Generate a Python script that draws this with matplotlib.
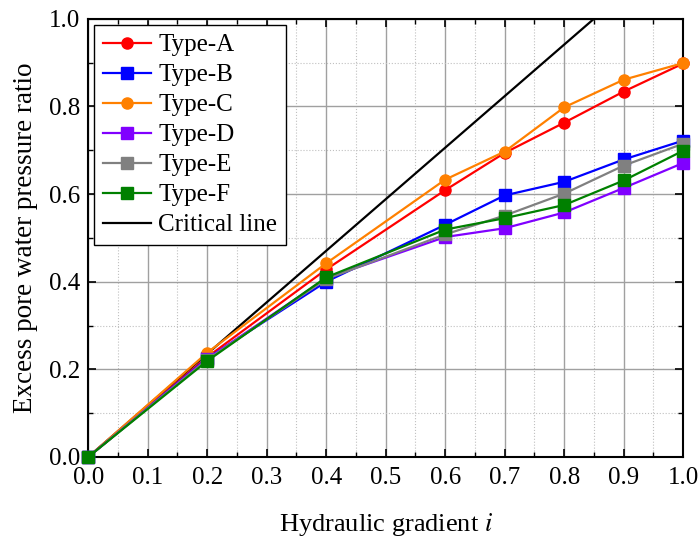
import matplotlib
matplotlib.use('Agg')
import matplotlib.pyplot as plt
from matplotlib.ticker import MultipleLocator, FormatStrFormatter

plt.rcParams['font.family'] = ['Liberation Serif', 'DejaVu Serif']
plt.rcParams['mathtext.fontset'] = 'stix'

# hydraulic gradient values
gradient = [0.0, 0.2, 0.4, 0.6, 0.7, 0.8, 0.9, 1.0]

# excess pore water pressure ratio per type
type_a = [0.0, 0.228, 0.428, 0.609, 0.694, 0.763, 0.834, 0.898]
type_b = [0.0, 0.225, 0.400, 0.530, 0.597, 0.628, 0.679, 0.722]
type_c = [0.0, 0.238, 0.442, 0.633, 0.697, 0.798, 0.861, 0.899]
type_d = [0.0, 0.224, 0.408, 0.502, 0.522, 0.558, 0.614, 0.671]
type_e = [0.0, 0.222, 0.406, 0.508, 0.551, 0.601, 0.665, 0.715]
type_f = [0.0, 0.219, 0.410, 0.519, 0.545, 0.575, 0.631, 0.699]

# critical line end points
crit_x = [0.0, 0.85]
crit_y = [0.0, 1.0]

series = [
    ("Type-A", type_a, '#ff0000', 'o'),
    ("Type-B", type_b, '#0000ff', 's'),
    ("Type-C", type_c, '#ff8000', 'o'),
    ("Type-D", type_d, '#8000ff', 's'),
    ("Type-E", type_e, '#808080', 's'),
    ("Type-F", type_f, '#008000', 's'),
]

fig = plt.figure(figsize=(7, 5.37), dpi=100)
ax = fig.add_axes([0.126, 0.149, 0.850, 0.816])

crit, = ax.plot(crit_x, crit_y, color='black', lw=1.6, label='Critical line', zorder=3)
handles = []
for name, vals, col, mk in series:
    h, = ax.plot(gradient, vals, color=col, marker=mk, markersize=8, lw=1.6,
                 label=name, clip_on=False, zorder=4)
    handles.append(h)
handles.append(crit)

ax.set_xlim(0, 1.0)
ax.set_ylim(0, 1.0)
ax.xaxis.set_major_locator(MultipleLocator(0.1))
ax.xaxis.set_minor_locator(MultipleLocator(0.05))
ax.yaxis.set_major_locator(MultipleLocator(0.2))
ax.yaxis.set_minor_locator(MultipleLocator(0.1))
ax.xaxis.set_major_formatter(FormatStrFormatter('%.1f'))
ax.yaxis.set_major_formatter(FormatStrFormatter('%.1f'))

ax.grid(which='major', color='#a0a0a0', lw=1.0, ls='-')
ax.grid(which='minor', color='#c0c0c0', lw=0.8, ls=':')
ax.set_axisbelow(True)

ax.tick_params(which='both', direction='in', top=True, right=True, labelsize=18)
ax.tick_params(axis='x', which='major', pad=7)
ax.tick_params(axis='y', which='major', pad=6)
ax.tick_params(which='major', length=6, width=1.2)
ax.tick_params(which='minor', length=3.5, width=1.0)
for s in ax.spines.values():
    s.set_linewidth(1.5)

ax.set_xlabel("Hydraulic gradient $\\it{i}$", fontsize=19, labelpad=16)
ax.set_ylabel("Excess pore water pressure ratio", fontsize=19.5, labelpad=8)

leg = ax.legend(handles=handles, loc='upper left', fontsize=18, fancybox=False,
                edgecolor='black', framealpha=1, handlelength=1.9, labelspacing=0.3,
                borderpad=0.35, handletextpad=0.3, borderaxespad=0.25)
leg.get_frame().set_linewidth(1.0)

fig.savefig('out.png', dpi=100)
